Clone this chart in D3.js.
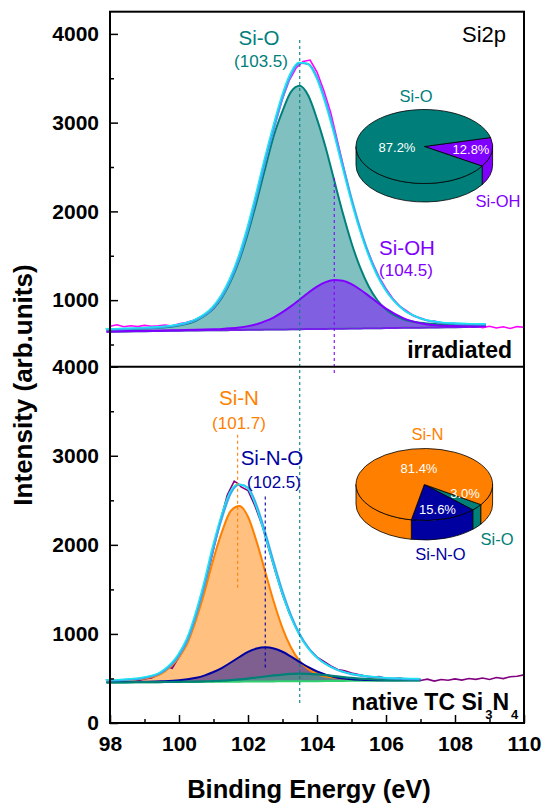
<!DOCTYPE html>
<html><head><meta charset="utf-8">
<script src="https://cdn.jsdelivr.net/npm/d3@7"></script>
<style>
body{margin:0;background:#fff}
svg{display:block}
text{font-family:"Liberation Sans",Arial,Helvetica,sans-serif}
</style>
</head><body>
<svg id="chart" width="545" height="807"></svg>
<script>
// ---------------- DATA ----------------
// Upper panel (irradiated) – fitted components on a common energy grid
const energyTop = [97.9,98.5,99,99.5,100,100.5,101,101.25,101.5,101.75,102,102.25,102.5,102.75,103,103.25,103.5,103.75,104,104.25,104.5,104.75,105,105.25,105.5,105.75,106,106.5,107,107.5,108,108.5,108.9];
const bgTop    = [644,648,650,653,655,658,660,661,663,664,665,666,668,669,670,671,673,674,675,676,678,679,680,681,683,684,685,688,690,693,695,698,700];
const siOTop   = [665,673,680,691,715,770,907,1034,1214,1453,1756,2110,2490,2856,3130,3350,3415,3302,3040,2720,2347,1978,1644,1369,1154,999,895,785,744,729,724,721,721];
const siOHTop  = [648,651,654,657,661,665,671,675,682,692,707,729,763,807,864,932,1008,1084,1153,1203,1227,1219,1180,1120,1048,974,904,798,740,714,707,705,705];
const envTop   = [669,677,684,696,721,778,918,1048,1234,1481,1798,2173,2570,2940,3280,3540,3672,3660,3510,3240,2900,2518,2144,1808,1520,1289,1114,896,794,751,736,729,727];
// Upper panel raw spectrum
const rawEnergyTop = [98,98.2,98.4,98.6,98.8,99,99.2,99.4,99.6,99.8,100,100.2,100.4,100.6,100.8,101,101.2,101.4,101.6,101.8,102,102.2,102.4,102.6,102.8,103,103.2,103.4,103.6,103.8,104,104.2,104.4,104.6,104.8,105,105.2,105.4,105.6,105.8,106,106.2,106.4,106.6,106.8,107,107.2,107.4,107.6,107.8,108,108.2,108.4,108.6,108.8,109,109.2,109.4,109.6,109.8,110];
const rawTop = [705,722,700,712,703,715,706,711,718,709,735,748,770,800,845,905,1010,1140,1330,1540,1800,2080,2420,2720,3000,3270,3480,3620,3690,3705,3570,3360,3110,2780,2450,2130,1860,1620,1430,1260,1130,1015,930,880,822,800,770,765,742,735,718,725,702,712,690,705,686,700,680,702,695];

// Lower panel (native TC Si3N4)
const energyBottom = [97.9,98.5,99,99.5,100,100.25,100.5,100.75,101,101.25,101.5,101.75,102,102.25,102.5,102.75,103,103.25,103.5,103.75,104,104.5,105,105.5,106,106.5,107];
const bgBottom   = [455,456,458,459,460,461,461,462,463,463,464,464,465,466,466,467,468,468,469,469,470,471,473,474,475,476,478];
const siNBottom  = [473,481,500,558,738,901,1166,1485,1845,2152,2380,2435,2316,2036,1698,1358,1066,845,694,603,550,509,496,492,490,488,488];
const siNOBottom = [458,460,463,468,479,491,507,535,573,620,679,741,798,836,850,837,800,745,684,626,580,517,491,483,480,480,480];
const siOBottom  = [456,457,459,460,462,464,465,468,471,475,482,489,499,511,522,534,544,551,554,552,546,527,506,492,483,480,480];
const envBottom  = [478,486,507,569,759,935,1216,1564,1964,2310,2580,2675,2640,2440,2135,1795,1475,1205,995,842,736,611,548,520,503,496,493];
const rawEnergyBottom = [98,98.2,98.4,98.6,98.8,99,99.2,99.4,99.6,99.7,99.8,100,100.2,100.4,100.6,100.8,101,101.2,101.4,101.6,101.7,101.8,102,102.2,102.4,102.6,102.8,103,103.2,103.4,103.6,103.8,104,104.2,104.4,104.6,104.8,105,105.2,105.4,105.6,105.8,106,106.2,106.4,106.6,106.8,107,107.2,107.4,107.6,107.8,108,108.2,108.4,108.6,108.8,109,109.2,109.4,109.6,109.8,110];
const rawBottom = [470,474,468,490,476,495,505,540,585,625,615,740,880,1080,1330,1620,1950,2270,2560,2715,2690,2650,2610,2440,2230,1960,1690,1440,1230,1060,920,820,740,690,640,600,585,560,545,528,512,520,500,496,505,488,497,478,492,470,488,480,495,482,500,490,505,488,510,498,520,525,540];

// Peak markers (energies)
const peakSiO = 103.5, peakSiOH = 104.5, peakSiN = 101.7, peakSiNO = 102.5;

// Pie charts (percent)
const pieTopLabels = ["Si-OH","Si-O"];
const pieTopValues = [12.8, 87.2];
const pieBottomLabels = ["Si-O","Si-N-O","Si-N"];
const pieBottomValues = [3.0, 15.6, 81.4];

// Axis ticks
const xTicks = [98,100,102,104,106,108,110];
const xMinor = [99,101,103,105,107,109];
const yTicksTop = [1000,2000,3000,4000];
const yMinorTop = [500,1500,2500,3500];
const yTicksBottom = [0,1000,2000,3000,4000];
const yMinorBottom = [500,1500,2500,3500];

// ---------------- LAYOUT ----------------
const L = 110, R = 524, T = 11.7, M = 366.7, B = 723;
const svg = d3.select("#chart");
const x = d3.scaleLinear().domain([98,110]).range([L,R]);
const yTop = d3.scaleLinear().domain([250,4250]).range([M,T]);
const yBot = d3.scaleLinear().domain([0,4000]).range([B,M]);

const C = {
  teal:"#00807c", tealFill:"#80c0c0", violet:"#8000ff", violetFill:"#8060e0",
  magenta:"#ff00ff", cyan:"#18e8f0", blue:"#40a8f0",
  orange:"#ff8000", orangeFill:"#ffc080", navy:"#0000a0", navyFill:"#7f5f8f",
  purple:"#800080", green:"#30d070"
};

function area(en, base, vals, y){
  return d3.area().curve(d3.curveMonotoneX)
    .x((d,i)=>x(en[i])).y0((d,i)=>y(base[i])).y1((d,i)=>y(vals[i]))(vals);
}
function line(en, vals, y, curve){
  return d3.line().curve(curve||d3.curveMonotoneX).x((d,i)=>x(en[i])).y((d,i)=>y(d))(vals);
}

// ----- upper panel -----
const gT = svg.append("g");
gT.append("path").attr("d",area(energyTop,bgTop,siOTop,yTop)).attr("fill",C.tealFill);
gT.append("path").attr("d",area(energyTop,bgTop,siOHTop,yTop)).attr("fill",C.violetFill);
gT.append("path").attr("d",line(energyTop,bgTop,yTop)).attr("fill","none").attr("stroke",C.green).attr("stroke-width",2);
gT.append("path").attr("d",line(energyTop,bgTop,yTop)).attr("fill","none").attr("stroke",C.violet).attr("stroke-width",2).attr("stroke-opacity",0.85);
gT.append("path").attr("d",line(rawEnergyTop,rawTop,yTop,d3.curveLinear)).attr("fill","none").attr("stroke",C.magenta).attr("stroke-width",1.6);
gT.append("path").attr("d",line(energyTop,siOTop,yTop)).attr("fill","none").attr("stroke",C.teal).attr("stroke-width",2);
gT.append("path").attr("d",line(energyTop,siOHTop,yTop)).attr("fill","none").attr("stroke",C.violet).attr("stroke-width",2);
gT.append("path").attr("d",line(energyTop,envTop,yTop)).attr("fill","none").attr("stroke",C.blue).attr("stroke-width",2.2);
gT.append("path").attr("d",line(energyTop,envTop,yTop)).attr("fill","none").attr("stroke",C.cyan).attr("stroke-width",1.3).attr("transform","translate(-1.3,-0.6)");

// ----- lower panel -----
const gB = svg.append("g");
gB.append("path").attr("d",area(energyBottom,bgBottom,siNBottom,yBot)).attr("fill",C.orangeFill);
gB.append("path").attr("d",area(energyBottom,bgBottom,siNOBottom,yBot)).attr("fill",C.navyFill);
gB.append("path").attr("d",area(energyBottom,bgBottom,siOBottom,yBot)).attr("fill","#4f8f8a").attr("fill-opacity",0.8);
gB.append("path").attr("d",line(energyBottom,bgBottom,yBot)).attr("fill","none").attr("stroke",C.green).attr("stroke-width",2);
gB.append("path").attr("d",line(rawEnergyBottom,rawBottom,yBot,d3.curveLinear)).attr("fill","none").attr("stroke",C.purple).attr("stroke-width",1.6);
gB.append("path").attr("d",line(energyBottom,siNBottom,yBot)).attr("fill","none").attr("stroke",C.orange).attr("stroke-width",2);
gB.append("path").attr("d",line(energyBottom,siNOBottom,yBot)).attr("fill","none").attr("stroke",C.navy).attr("stroke-width",2);
gB.append("path").attr("d",line(energyBottom,siOBottom,yBot)).attr("fill","none").attr("stroke","#008078").attr("stroke-width",2.2);
gB.append("path").attr("d",line(energyBottom,envBottom,yBot)).attr("fill","none").attr("stroke",C.blue).attr("stroke-width",2.2);
gB.append("path").attr("d",line(energyBottom,envBottom,yBot)).attr("fill","none").attr("stroke",C.cyan).attr("stroke-width",1.3).attr("transform","translate(-1.3,-0.6)");

// ----- dashed guides -----
function dash(e, y1, y2, col){
  svg.append("line").attr("x1",x(e)).attr("x2",x(e)).attr("y1",y1).attr("y2",y2)
    .attr("stroke",col).attr("stroke-width",1.1).attr("stroke-dasharray","3,3");
}
dash(peakSiO, yTop(3930), yBot(225), C.teal);
dash(peakSiOH, yTop(2376), yBot(3910), C.violet);
dash(peakSiN, yBot(3236), yBot(1517), C.orange);
dash(peakSiNO, yBot(2543), yBot(618), C.navy);

// ----- frame -----
svg.append("rect").attr("x",L).attr("y",T).attr("width",R-L).attr("height",B-T)
  .attr("fill","none").attr("stroke","#000").attr("stroke-width",2);
svg.append("line").attr("x1",L).attr("x2",R).attr("y1",M).attr("y2",M).attr("stroke","#000").attr("stroke-width",2);

// ----- axes -----
function styleAxis(g){
  g.select(".domain").remove();
  g.selectAll(".tick line").attr("stroke","#000").attr("stroke-width",1.5);
  g.selectAll("text").attr("font-size",21).attr("font-weight","bold").attr("fill","#000")
    .style("font-family","'Liberation Sans',Arial,sans-serif");
}
const fmt = d3.format("d");
svg.append("g").attr("transform",`translate(${L},0)`)
  .call(d3.axisLeft(yTop).tickValues(yTicksTop).tickSizeInner(-8).tickSizeOuter(0).tickPadding(11).tickFormat(fmt)).call(styleAxis);
svg.append("g").attr("transform",`translate(${L},0)`)
  .call(d3.axisLeft(yTop).tickValues(yMinorTop).tickSize(-4).tickFormat("")).call(styleAxis);
svg.append("g").attr("transform",`translate(${L},0)`)
  .call(d3.axisLeft(yBot).tickValues(yTicksBottom).tickSizeInner(-8).tickSizeOuter(0).tickPadding(11).tickFormat(fmt)).call(styleAxis);
svg.append("g").attr("transform",`translate(${L},0)`)
  .call(d3.axisLeft(yBot).tickValues(yMinorBottom).tickSize(-4).tickFormat("")).call(styleAxis);
svg.append("g").attr("transform",`translate(0,${B})`)
  .call(d3.axisBottom(x).tickValues(xTicks).tickSizeInner(-8).tickSizeOuter(0).tickPadding(13).tickFormat(fmt)).call(styleAxis);
svg.append("g").attr("transform",`translate(0,${B})`)
  .call(d3.axisBottom(x).tickValues(xMinor).tickSize(-4).tickFormat("")).call(styleAxis);

// axis titles
svg.append("text").attr("transform","translate(32,385) rotate(-90)").attr("text-anchor","middle")
  .attr("font-size",26).attr("font-weight","bold").text("Intensity (arb.units)");
svg.append("text").attr("x",309).attr("y",798).attr("text-anchor","middle")
  .attr("font-size",25.5).attr("font-weight","bold").text("Binding Energy (eV)");

// ----- annotations -----
function txt(s, xx, yy, size, col, opts){
  const t = svg.append("text").attr("x",xx).attr("y",yy).attr("font-size",size).attr("fill",col)
    .attr("text-anchor",(opts&&opts.anchor)||"middle").text(s);
  if(opts&&opts.bold) t.attr("font-weight","bold");
  return t;
}
txt("Si2p", 462, 41.7, 22, "#000", {anchor:"start"});
txt("Si-O", 259, 45, 20.5, C.teal);
txt("(103.5)", 261, 66.7, 17, C.teal);
txt("Si-OH", 407, 255, 20.5, C.violet);
txt("(104.5)", 406, 275.5, 17, C.violet);
txt("irradiated", 512, 357.5, 23, "#000", {anchor:"end", bold:true});

txt("Si-N", 239, 405, 20.5, C.orange);
txt("(101.7)", 239, 428.5, 17, C.orange);
txt("Si-N-O", 272, 465, 20.5, C.navy);
txt("(102.5)", 274, 487.5, 17, C.navy);
const nat = svg.append("text").attr("x",351.5).attr("y",710).attr("font-size",23).attr("font-weight","bold").attr("fill","#000");
nat.append("tspan").text("native TC Si");
nat.append("tspan").attr("font-size",13).attr("dy",9).attr("dx",2).text("3");
nat.append("tspan").attr("dy",-9).text("N");
nat.append("tspan").attr("font-size",13).attr("dy",9).attr("dx",2).text("4");

// ----- 3D pies -----
function drawPie(cx, cy, rx, ry, depth, values, colors, offsetDeg){
  const g = svg.append("g");
  const off = offsetDeg*Math.PI/180;
  const arcs = d3.pie().sort(null).value(d=>d)(values);
  const P = (t, dz)=>[cx+rx*Math.cos(t), cy+ry*Math.sin(t)+(dz||0)];
  // side walls (front half only: 0..PI)
  arcs.forEach((a,i)=>{
    const t0 = off + a.startAngle, t1 = off + a.endAngle;
    [0, -2*Math.PI, 2*Math.PI].forEach(k=>{
      const s = Math.max(t0+k, 0), e = Math.min(t1+k, Math.PI);
      if(e > s){
        const p0=P(s), p1=P(e), q1=P(e,depth), q0=P(s,depth);
        g.append("path").attr("d",`M${p0}A${rx},${ry} 0 0 1 ${p1}L${q1}A${rx},${ry} 0 0 0 ${q0}Z`)
          .attr("fill",colors[i]).attr("stroke","#000").attr("stroke-width",0.8).attr("stroke-linejoin","round");
      }
    });
  });
  // top face
  arcs.forEach((a,i)=>{
    const t0 = off + a.startAngle, t1 = off + a.endAngle;
    const large = (t1-t0) > Math.PI ? 1 : 0;
    g.append("path").attr("d",`M${cx},${cy}L${P(t0)}A${rx},${ry} 0 ${large} 1 ${P(t1)}Z`)
      .attr("fill",colors[i]).attr("stroke","#000").attr("stroke-width",0.8).attr("stroke-linejoin","round");
  });
}
drawPie(424.3, 146.5, 68.3, 37, 18.5, pieTopValues, [C.violet, "#007f7a"], -14);
drawPie(424.3, 484.5, 68.3, 36, 19.5, pieBottomValues, ["#008078", "#0000a0", "#ff8000"], 34);

// pie labels
txt(pieTopLabels[1], 416, 101.7, 16.5, C.teal);
txt(pieTopValues[1].toFixed(1)+"%", 397, 152, 13, "#fff");
txt(pieTopValues[0].toFixed(1)+"%", 471, 154, 13, "#fff");
txt(pieTopLabels[0], 498, 207, 16.5, C.violet);

txt(pieBottomLabels[2], 427.5, 439.5, 16.5, C.orange);
txt(pieBottomValues[2].toFixed(1)+"%", 419, 473, 13, "#fff");
txt(pieBottomValues[0].toFixed(1)+"%", 465, 498, 13, "#fff");
txt(pieBottomValues[1].toFixed(1)+"%", 437.5, 514, 13, "#fff");
txt(pieBottomLabels[1], 440.5, 560, 16.5, C.navy);
txt(pieBottomLabels[0], 497, 545, 16.5, "#008078");
</script>
</body></html>
